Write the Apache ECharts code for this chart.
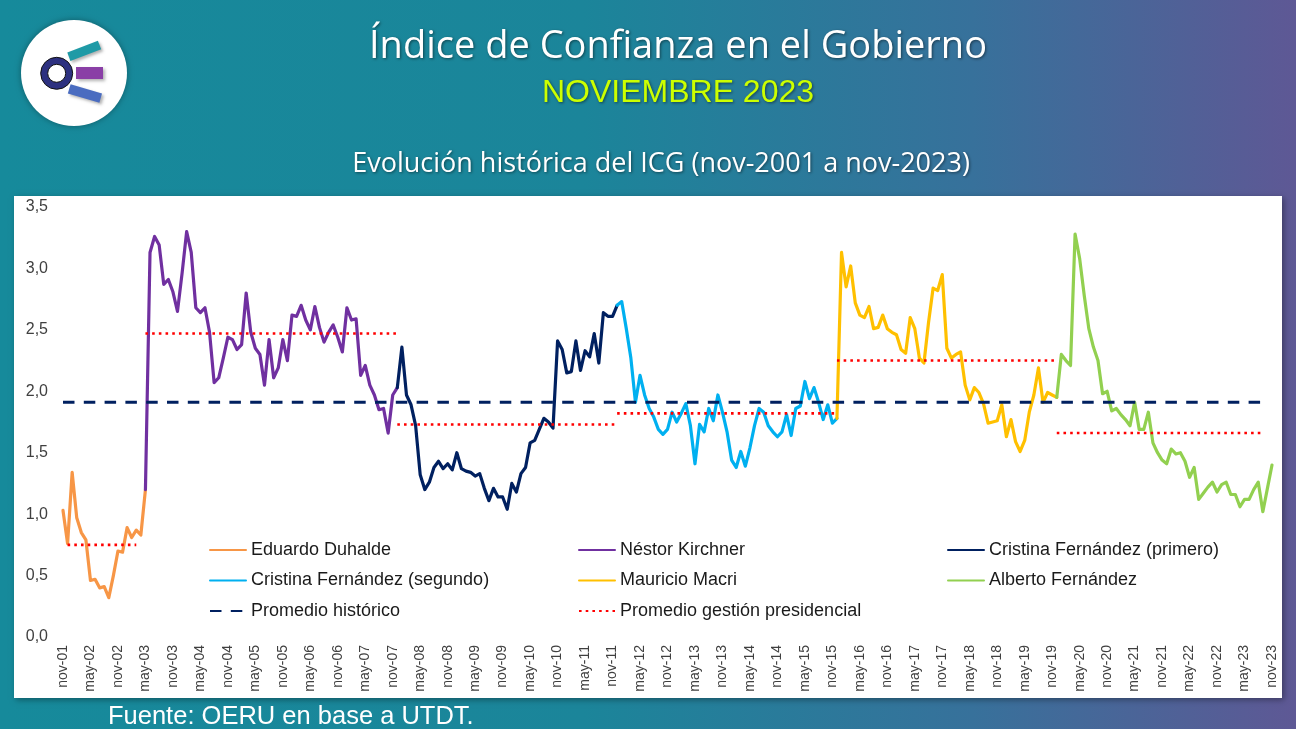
<!DOCTYPE html>
<html><head><meta charset="utf-8">
<script src="https://cdn.jsdelivr.net/npm/echarts@6/dist/echarts.min.js"></script>
<style>html,body{margin:0;padding:0;background:#178a9b;overflow:hidden}#c{width:1296px;height:729px}</style>
</head><body><div id="c"></div>
<script>
// ---- Categories (monthly, nov-2001 .. nov-2023) ----
const monthNames = ['ene','feb','mar','abr','may','jun','jul','ago','sep','oct','nov','dic'];
const categories = [];
for (let k = 0; k < 265; k++) {
  const m = (10 + k) % 12;
  const y = 2001 + Math.floor((10 + k) / 12);
  categories.push(monthNames[m] + '-' + String(y % 100).padStart(2, '0'));
}
const yTicks = [0, 0.5, 1, 1.5, 2, 2.5, 3, 3.5];

// ---- Series values ----
const duhalde = [1.03,0.76,1.34,0.97,0.85,0.79,0.46,0.47,0.40,0.41,0.32,0.50,0.70,0.69,0.89,0.81,0.87,0.83,1.20];
const kirchner = [1.20,3.13,3.26,3.19,2.87,2.91,2.81,2.65,2.96,3.30,3.13,2.68,2.64,2.68,2.48,2.07,2.11,2.27,2.44,2.42,2.34,2.38,2.80,2.48,2.35,2.30,2.05,2.42,2.11,2.19,2.42,2.25,2.62,2.61,2.70,2.58,2.50,2.69,2.52,2.40,2.48,2.54,2.44,2.32,2.68,2.58,2.59,2.13,2.21,2.05,1.97,1.85,1.86,1.66,1.97,2.03];
const cfk1 = [2.03,2.36,1.97,1.89,1.72,1.32,1.20,1.26,1.38,1.43,1.37,1.41,1.36,1.50,1.37,1.35,1.34,1.31,1.33,1.21,1.11,1.21,1.14,1.14,1.04,1.25,1.18,1.33,1.38,1.58,1.60,1.69,1.78,1.75,1.70,2.41,2.34,2.15,2.16,2.41,2.17,2.33,2.28,2.47,2.23,2.64,2.61,2.61,2.70];
const cfk2 = [2.70,2.73,2.51,2.27,1.91,2.13,1.97,1.86,1.79,1.69,1.65,1.69,1.83,1.75,1.82,1.90,1.72,1.41,1.73,1.67,1.86,1.76,1.97,1.83,1.67,1.44,1.38,1.51,1.39,1.54,1.72,1.86,1.83,1.72,1.67,1.63,1.67,1.81,1.64,1.86,1.88,2.08,1.94,2.03,1.91,1.77,1.89,1.74,1.78];
const macri = [1.78,3.13,2.85,3.02,2.72,2.62,2.60,2.69,2.51,2.52,2.62,2.51,2.48,2.46,2.34,2.31,2.60,2.51,2.27,2.23,2.56,2.84,2.82,2.95,2.35,2.27,2.30,2.32,2.05,1.93,2.03,1.99,1.90,1.74,1.75,1.76,1.89,1.63,1.77,1.59,1.51,1.60,1.83,1.97,2.19,1.91,1.99,1.97,1.95];
const alberto = [1.95,2.30,2.25,2.21,3.28,3.08,2.78,2.51,2.36,2.25,1.98,2.00,1.84,1.86,1.81,1.77,1.72,1.91,1.69,1.69,1.83,1.58,1.50,1.44,1.41,1.53,1.49,1.50,1.43,1.30,1.38,1.12,1.17,1.22,1.26,1.18,1.24,1.26,1.16,1.16,1.06,1.12,1.12,1.20,1.26,1.02,1.21,1.40];
const startIndex = [0, 18, 73, 121, 169, 217];

const promedioHistorico = 1.91;
const tramoHistorico = [0, 262];
const promediosGestion = [0.75, 2.47, 1.73, 1.82, 2.25, 1.66];
const tramosGestion = [[1,16],[18,73],[73,121],[121,169],[169,217],[217,262]];

const nombres = ['Eduardo Duhalde','Néstor Kirchner','Cristina Fernández (primero)','Cristina Fernández (segundo)','Mauricio Macri','Alberto Fernández'];
const colores = ['#F79646','#7030A0','#002060','#00B0F0','#FFC000','#92D050'];
const valores = [duhalde, kirchner, cfk1, cfk2, macri, alberto];

function place(start, vals) {
  const a = new Array(categories.length).fill(null);
  vals.forEach((v, j) => { a[start + j] = v; });
  return a;
}
function flat(range, v) {
  const a = new Array(categories.length).fill(null);
  for (let k = range[0]; k <= range[1]; k++) a[k] = v;
  return a;
}

const series = [];
valores.forEach((vals, s) => {
  series.push({
    name: nombres[s], type: 'line', data: place(startIndex[s], vals),
    symbol: 'none', showSymbol: false, connectNulls: false, z: 3,
    lineStyle: { color: colores[s], width: 3.2, cap: 'round', join: 'round' },
    itemStyle: { color: colores[s] }
  });
});
series.push({
  name: 'Promedio histórico', type: 'line', data: flat(tramoHistorico, promedioHistorico),
  symbol: 'none', showSymbol: false, z: 4,
  lineStyle: { color: '#002060', width: 3, type: [11.5, 9.3] },
  itemStyle: { color: '#002060' }
});
tramosGestion.forEach((r, s) => {
  series.push({
    name: 'Promedio gestión presidencial', type: 'line', data: flat(r, promediosGestion[s]),
    symbol: 'none', showSymbol: false, z: 4,
    lineStyle: { color: '#FF0000', width: 2.6, type: [2.6, 4.1] },
    itemStyle: { color: '#FF0000' }
  });
});

const legendCommon = {
  orient: 'vertical', top: 536, itemWidth: 36, itemHeight: 14, itemGap: 12.5,
  textStyle: { fontFamily: 'Liberation Sans, Arial, sans-serif', fontSize: 18, color: '#1a1a1a' },
  itemStyle: { opacity: 0 }, selectedMode: false
};

const shadowTxt = { textShadowColor: 'rgba(0,0,0,0.5)', textShadowBlur: 3, textShadowOffsetX: 1, textShadowOffsetY: 1 };

const chart = echarts.init(document.getElementById('c'), null, { renderer: 'canvas' });
chart.setOption({
  animation: false,
  textStyle: { fontFamily: 'Liberation Sans, Arial, sans-serif' },
  graphic: [
    { type: 'rect', z: -20, silent: true, shape: { x: 0, y: 0, width: 1296, height: 729 },
      style: { fill: new echarts.graphic.LinearGradient(0, 0, 1, 0, [
        { offset: 0, color: '#168a9b' }, { offset: 0.45, color: '#1b859a' },
        { offset: 0.75, color: '#37719b' }, { offset: 1, color: '#5e5895' }]) } },
    { type: 'rect', z: -19, silent: true, shape: { x: 14, y: 196, width: 1268, height: 502 },
      style: { fill: '#ffffff', shadowBlur: 6, shadowColor: 'rgba(0,0,0,0.35)', shadowOffsetX: 2, shadowOffsetY: 2 } },
    // logo
    { type: 'circle', z: -18, silent: true, shape: { cx: 74, cy: 73, r: 53 },
      style: { fill: '#ffffff', shadowBlur: 6, shadowColor: 'rgba(0,0,0,0.35)' } },
    { type: 'polygon', z: -17, silent: true, shape: { points: [[67.3,52.5],[97.9,40.8],[101.2,49.2],[70.4,60.9]] },
      style: { fill: '#1f9aa6', shadowBlur: 3, shadowColor: 'rgba(0,0,0,0.3)', shadowOffsetX: 2, shadowOffsetY: 2 } },
    { type: 'rect', z: -17, silent: true, shape: { x: 76, y: 67, width: 27, height: 12 },
      style: { fill: '#8a3fa6', shadowBlur: 3, shadowColor: 'rgba(0,0,0,0.3)', shadowOffsetX: 2, shadowOffsetY: 2 } },
    { type: 'polygon', z: -17, silent: true, shape: { points: [[70.6,84.2],[102,93.5],[99.4,102.8],[67.8,93.5]] },
      style: { fill: '#4a6cc0', shadowBlur: 3, shadowColor: 'rgba(0,0,0,0.3)', shadowOffsetX: 2, shadowOffsetY: 2 } },
    { type: 'circle', z: -16, silent: true, shape: { cx: 56.7, cy: 73.3, r: 16 },
      style: { fill: '#2d3180', stroke: '#111', lineWidth: 1 } },
    { type: 'circle', z: -15, silent: true, shape: { cx: 56.7, cy: 73.3, r: 9 },
      style: { fill: '#ffffff', stroke: '#111', lineWidth: 1 } },
    // titles
    { type: 'text', z: -10, silent: true, style: Object.assign({ text: 'Índice de Confianza en el Gobierno', x: 678, y: 28,
      textAlign: 'center', textVerticalAlign: 'top', font: '38px "Open Sans", Lato, sans-serif', fill: '#ffffff' }, shadowTxt) },
    { type: 'text', z: -10, silent: true, style: Object.assign({ text: 'NOVIEMBRE 2023', x: 678, y: 77,
      textAlign: 'center', textVerticalAlign: 'top', font: '32px "Liberation Sans", Arial, sans-serif', fill: '#ccff00' }, shadowTxt) },
    { type: 'text', z: -10, silent: true, style: Object.assign({ text: 'Evolución histórica del ICG (nov-2001 a nov-2023)', x: 661, y: 151,
      textAlign: 'center', textVerticalAlign: 'top', font: '27px "Open Sans", Lato, sans-serif', fill: '#ffffff' }, shadowTxt) },
    { type: 'text', z: -10, silent: true, style: { text: 'Fuente: OERU en base a UTDT.', x: 108, y: 704,
      textAlign: 'left', textVerticalAlign: 'top', font: '25.5px "Liberation Sans", Arial, sans-serif', fill: '#ffffff' } }
  ],
  grid: { left: 63, right: 24, top: 207, bottom: 92, containLabel: false },
  legend: [
    Object.assign({ left: 204, data: [nombres[0], nombres[3], 'Promedio histórico'] }, legendCommon),
    Object.assign({ left: 573, data: [nombres[1], nombres[4], 'Promedio gestión presidencial'] }, legendCommon),
    Object.assign({ left: 942, data: [nombres[2], nombres[5]] }, legendCommon)
  ],
  xAxis: {
    type: 'category', data: categories, boundaryGap: false,
    axisLine: { show: false }, axisTick: { show: false }, splitLine: { show: false },
    axisLabel: { interval: 5, rotate: 90, margin: 8, fontSize: 14, color: '#404040',
      fontFamily: 'Liberation Sans, Arial, sans-serif' }
  },
  yAxis: {
    type: 'value', min: yTicks[0], max: yTicks[yTicks.length - 1], interval: 0.5,
    axisLine: { show: false }, axisTick: { show: false }, splitLine: { show: false },
    axisLabel: { margin: 15, fontSize: 16, color: '#404040', fontFamily: 'Liberation Sans, Arial, sans-serif',
      formatter: v => v.toFixed(1).replace('.', ',') }
  },
  series: series
});
</script>
</body></html>
